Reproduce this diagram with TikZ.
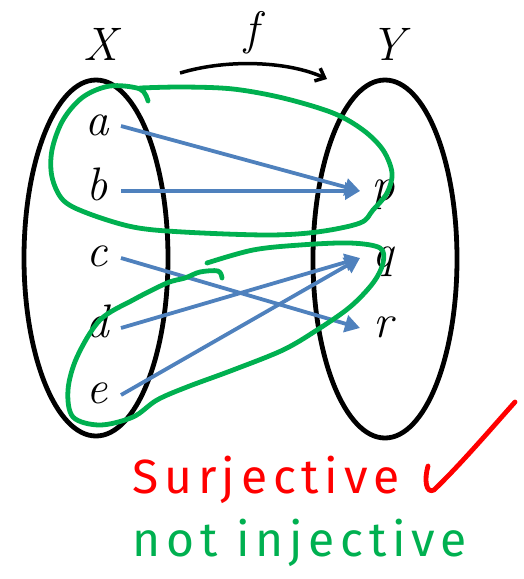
\documentclass[tikz,border=0pt]{standalone}
\usepackage{fontspec}
\usetikzlibrary{arrows.meta,calc}
\newfontfamily\handfont{Fira Sans}[LetterSpace=12]
\definecolor{arrblue}{RGB}{79,129,189}
\definecolor{pengreen}{RGB}{0,176,80}
\definecolor{penred}{RGB}{255,0,0}
\tikzset{
  setbox/.style={line width=4.8pt, black},
  elem/.style={anchor=base, inner sep=0pt, font=\fontsize{47}{50}\selectfont\itshape},
  maparrow/.style={line width=3.8pt, arrblue, -{Triangle[length=15pt,width=17pt]}},
  pen/.style={line width=4.8pt, pengreen, line cap=round, line join=round},
  handtext/.style={anchor=base, inner sep=0pt, font=\handfont\fontsize{48}{52}\selectfont}
}
\begin{document}
\begin{tikzpicture}[x=1pt,y=-1pt]
\useasboundingbox (0,0) rectangle (523,579);
% sets
\draw[setbox] (96,258) ellipse [x radius=72, y radius=178];
\draw[setbox] (385,259) ellipse [x radius=72, y radius=179];
% labels
\node[elem] (X) at (101,60) {X};
\node[elem] (Y) at (388,60) {Y};
\node[elem] (f) at (252,44) {f};
\node[elem] (a) at (97,135) {a};
\node[elem] (b) at (97,200) {b};
\node[elem] (c) at (97,266) {c};
\node[elem] (d) at (97,337) {d};
\node[elem] (e) at (97,403) {e};
\node[elem] (p) at (383,200) {p};
\node[elem] (q) at (383,267) {q};
\node[elem] (r) at (383,337) {r};
% f arrow
\coordinate (fs) at (180,73);
\coordinate (fe) at (327,79);
\draw[line width=3.5pt, -{Straight Barb[length=8pt,width=14pt]}] (fs) .. controls (230,58) and (290,62) .. (fe);
% arrow endpoints
\coordinate (as) at (121,126);
\coordinate (bs) at (121,191);
\coordinate (cs) at (121,258);
\coordinate (ds) at (121,328);
\coordinate (es) at (121,395);
\coordinate (pe) at (360,191);
\coordinate (qe) at (360,258);
\coordinate (re) at (360,328);
\draw[maparrow] (as) -- (pe);
\draw[maparrow] (bs) -- (pe);
\draw[maparrow] (cs) -- (re);
\draw[maparrow] (ds) -- (qe);
\draw[maparrow] (es) -- (qe);
% green loops
\draw[pen] plot[smooth, tension=0.55] coordinates {
 (148,101) (140,89) (110,86) (83,97) (63,120) (52,150) (52,177) (63,200) (87,213)
 (133,227) (183,232) (267,235) (317,232) (360,223) (373,210) (387,193) (392,173)
 (383,150) (363,130) (333,113) (283,98) (233,89) (183,87) (140,88)};
\draw[pen] plot[smooth, tension=0.55] coordinates {
 (207,263) (253,250) (300,245) (350,243) (380,248) (383,263) (373,283) (350,307)
 (317,330) (283,350) (233,370) (187,387) (157,400) (133,417) (100,425) (73,417)
 (68,390) (77,357) (100,320) (133,300) (167,283) (185,278) (200,272) (218,271) (222,278)};
% handwritten notes
\node[handtext, text=penred] (surj) at (266,493) {Surjective};
\node[handtext, text=pengreen] (notinj) at (300,556) {not injective};
\coordinate (k1) at (428,466);
\coordinate (k2) at (434,490);
\coordinate (k3) at (515,402);
\draw[line width=4.8pt, penred, line cap=round, line join=round] (k1) .. controls (424,480) and (426,494) .. (k2) .. controls (460,465) and (490,430) .. (k3);
\end{tikzpicture}
\end{document}
